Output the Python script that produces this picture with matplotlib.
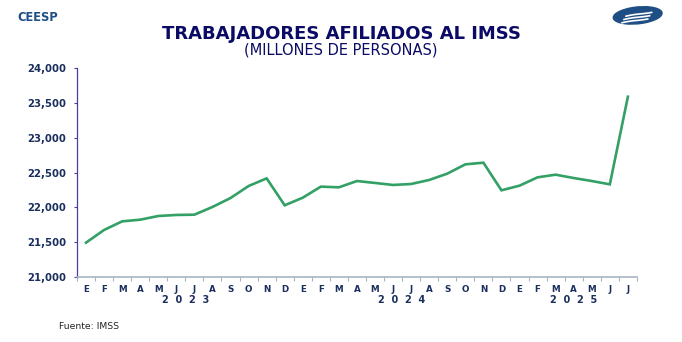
import matplotlib
matplotlib.use("Agg")
import matplotlib.pyplot as plt
from matplotlib.patches import Ellipse
import numpy as np

months = ["E", "F", "M", "A", "M", "J", "J", "A", "S", "O", "N", "D",
          "E", "F", "M", "A", "M", "J", "J", "A", "S", "O", "N", "D",
          "E", "F", "M", "A", "M", "J", "J"]
values = [21490, 21673, 21797, 21821, 21874, 21889, 21893, 22004, 22133, 22306, 22416, 22028,
          22138, 22297, 22287, 22378, 22350, 22321, 22335, 22393, 22484, 22618, 22642, 22244,
          22311, 22431, 22469, 22421, 22378, 22330, 23592]
years = ["2023", "2024", "2025"]
year_counts = [12, 12, 7]
yticks = [21000, 21500, 22000, 22500, 23000, 23500, 24000]

plt.rcParams['font.family'] = ['DejaVu Sans']
navy = "#1B2F5E"

fig = plt.figure(figsize=(6.82, 3.42), dpi=100)
ax = fig.add_axes([0.1129, 0.191, 0.821, 0.609])

x = np.arange(len(values))
ax.plot(x, values, color="#33A066", lw=1.9, solid_joinstyle="miter")
ax.set_xlim(-0.5, len(values) - 0.5)
ax.set_ylim(21000, 24000)
ax.set_yticks(yticks)
ax.set_yticklabels([f"{v:,}" for v in yticks], fontsize=7.3, fontweight="bold", color=navy)
ax.tick_params(axis="y", length=2.5, color="#4A3FA0", width=0.8, pad=5)

ax.set_xticks(x)
ax.set_xticklabels(months, fontsize=6.3, fontweight="bold", color=navy)
ax.tick_params(axis="x", length=0, pad=6.3)
ax.set_xticks(np.arange(-0.5, len(values)), minor=True)
ax.tick_params(axis="x", which="minor", length=3, color="#A9B4C6", width=0.8)

for s in ["top", "right"]:
    ax.spines[s].set_visible(False)
ax.spines["left"].set_color("#4A3FA0")
ax.spines["left"].set_linewidth(0.9)
ax.spines["bottom"].set_color("#A9B4C6")
ax.spines["bottom"].set_linewidth(1.2)

start = 0
for yr, c in zip(years, year_counts):
    center = start + (c - 1) / 2
    ax.text(center, -0.112, "  ".join(yr), transform=ax.get_xaxis_transform(),
            ha="center", va="center", fontsize=7, fontweight="bold", color=navy)
    start += c

fig.text(0.5, 0.902, "TRABAJADORES AFILIADOS AL IMSS", ha="center", va="center",
         fontsize=13, fontweight="bold", color="#0B0B66")
fig.text(0.5, 0.855, "(MILLONES DE PERSONAS)", ha="center", va="center",
         fontsize=10.5, color="#0B0B66")
fig.text(0.026, 0.948, "CEESP", ha="left", va="center", fontsize=8.3,
         fontweight="bold", color="#1F4E84")
fig.text(0.086, 0.045, "Fuente: IMSS", ha="left", va="center", fontsize=6.7, color="#222222")

# logo
lax = fig.add_axes([0.895, 0.915, 0.08, 0.08])
lax.set_xlim(0, 1); lax.set_ylim(0, 1); lax.axis("off")
lax.add_patch(Ellipse((0.5, 0.5), 0.92, 0.6, angle=18, color="#1F4E84"))
for off in [-0.12, 0.0, 0.12]:
    t = np.linspace(0.25, 0.72, 30)
    lax.plot(t + off * 0.3, 0.3 + 0.5 * (t - 0.25) + off + 0.05 * np.sin(t * 6),
             color="white", lw=1.2)

fig.savefig("out.png", dpi=100)
